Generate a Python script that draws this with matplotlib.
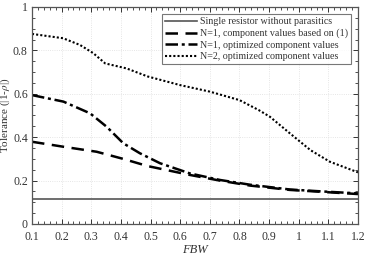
import matplotlib
matplotlib.use("Agg")
import matplotlib.pyplot as plt
from matplotlib.ticker import MultipleLocator

plt.rcParams['font.family'] = ['Liberation Serif', 'DejaVu Serif']
plt.rcParams['mathtext.fontset'] = 'stix'

# valores
fbw_ref = [0.1, 1.2]
tol_ref = [0.117, 0.117]

fbw_n1a = [0.1, 0.206, 0.318, 0.408, 0.49, 0.633, 0.734, 0.836, 0.97, 1.08, 1.2]
tol_n1a = [0.379, 0.356, 0.333, 0.30, 0.267, 0.226, 0.200, 0.177, 0.157, 0.148, 0.138]

fbw_n1b = [0.1, 0.206, 0.296, 0.352, 0.408, 0.464, 0.532, 0.633, 0.734, 0.836, 0.97, 1.08, 1.2]
tol_n1b = [0.594, 0.564, 0.51, 0.448, 0.372, 0.326, 0.28, 0.233, 0.203, 0.181, 0.159, 0.15, 0.141]

fbw_n2 = [0.1, 0.205, 0.262, 0.307, 0.347, 0.419, 0.49, 0.6, 0.70, 0.80, 0.865,
          0.903, 0.97, 1.04, 1.105, 1.2]
tol_n2 = [0.876, 0.856, 0.825, 0.787, 0.74, 0.717, 0.68, 0.64, 0.61, 0.571, 0.525,
          0.494, 0.418, 0.34, 0.287, 0.238]

etiquetas = ['Single resistor without parasitics',
             'N=1, component values based on (1)',
             'N=1, optimized component values',
             'N=2, optimized component values']

fig = plt.figure(figsize=(3.66, 2.58), dpi=100)
ax = fig.add_axes([32/366, 1 - 224/258, 326/366, 217/258])

ax.plot(fbw_ref, tol_ref, color='#555555', lw=1.2, label=etiquetas[0])
ax.plot(fbw_n1a, tol_n1a, color='k', lw=1.8, ls=(0, (5, 3)), label=etiquetas[1])
ax.plot(fbw_n1b, tol_n1b, color='k', lw=1.8, ls=(0, (5, 1.5, 1.2, 1.5)), label=etiquetas[2])
ax.plot(fbw_n2, tol_n2, color='k', lw=1.5, ls=(0, (1, 1)), label=etiquetas[3])

ax.set_xlim(0.1, 1.2)
ax.set_ylim(0, 1)
ax.xaxis.set_minor_locator(MultipleLocator(0.02))
ax.yaxis.set_minor_locator(MultipleLocator(0.05))
ax.set_xticks([0.1, 0.2, 0.3, 0.4, 0.5, 0.6, 0.7, 0.8, 0.9, 1.0, 1.1, 1.2])
ax.set_xticklabels(['0.1', '0.2', '0.3', '0.4', '0.5', '0.6', '0.7', '0.8', '0.9', '1', '1.1', '1.2'])
ax.set_yticks([0, 0.2, 0.4, 0.6, 0.8, 1.0])
ax.set_yticklabels(['0', '0.2', '0.4', '0.6', '0.8', '1'])
ax.tick_params(which='both', direction='in', top=True, right=True, labelsize=8.5,
               colors='#333333', labelcolor='#333333')
ax.tick_params(which='major', length=3.5, width=0.7)
ax.tick_params(which='minor', length=2, width=0.6)
ax.tick_params(axis='x', which='major', pad=5)
ax.tick_params(axis='y', which='major', pad=3)
for s in ax.spines.values():
    s.set_color('#555555')
    s.set_linewidth(0.9)
ax.grid(True, which='major', color='#dddddd', ls=':', lw=0.6)

ax.set_xlabel('FBW', style='italic', fontsize=9, color='#333333')
ax.set_ylabel(r'Tolerance (|1-$\rho$|)', fontsize=8, color='#333333')
ax.xaxis.set_label_coords(0.5, -20/217, transform=ax.transAxes)
ax.yaxis.set_label_coords(-19.5/326, 0.5, transform=ax.transAxes)

leg = ax.legend(loc='upper right', fontsize=7.2, frameon=True, fancybox=False,
                edgecolor='#555555', handlelength=3.2, handletextpad=0.3,
                borderpad=0.3, labelspacing=0.25, bbox_to_anchor=(0.993, 0.99))
leg.get_frame().set_linewidth(0.8)
for t in leg.get_texts():
    t.set_color('#333333')

fig.savefig('out.png', dpi=100)
